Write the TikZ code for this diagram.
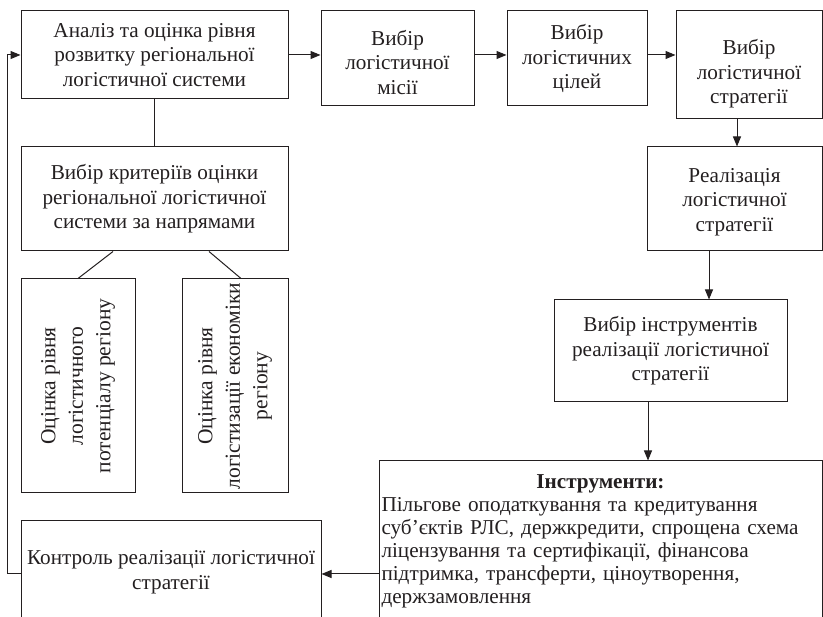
\documentclass[tikz,border=0pt]{standalone}
\usepackage{fontspec}
\setmainfont{Liberation Serif}
\usetikzlibrary{arrows.meta}
\definecolor{ink}{RGB}{35,31,32}

\begin{document}
\begin{tikzpicture}[x=1pt, y=-1pt,
    blok/.style={rectangle, draw=ink, line width=1pt, text=ink, align=center, inner sep=2pt, font=\fontsize{21.2}{24.5}\selectfont},
    vblok/.style={blok, rotate=90, font=\fontsize{21.5}{27.5}\selectfont},
    arrow/.style={draw=ink, line width=1pt, -{Triangle[length=10pt,width=8pt]}},
    line/.style={draw=ink, line width=1pt}
]
    \useasboundingbox (0,0) rectangle (823,617);
    \clip (0,0) rectangle (823,617);

    \node[blok, minimum width=267pt, minimum height=88pt] (ana) at (154.5,55) {Аналіз та оцінка рівня\\розвитку регіональної\\логістичної системи};
    \node[blok, minimum width=153pt, minimum height=95pt] (misia) at (397.5,58.5) {\rule{0pt}{23pt}Вибір\\логістичної\\місії};
    \node[blok, minimum width=140pt, minimum height=95pt] (tsili) at (577,58.5) {Вибір\\логістичних\\цілей};
    \node[blok, minimum width=146pt, minimum height=108pt] (strat) at (749,65) {\rule{0pt}{33pt}Вибір\\логістичної\\стратегії};
    \node[blok, minimum width=175pt, minimum height=104pt] (real) at (734.5,199) {\rule{0pt}{20pt}Реалізація\\логістичної\\стратегії};
    \node[blok, minimum width=233pt, minimum height=102pt] (instr) at (670.5,351) {Вибір інструментів\\реалізації логістичної\\стратегії};
    \node[blok, minimum width=443pt, minimum height=161pt, text width=438pt, align=left, font=\fontsize{21.2}{23}\selectfont] (tools) at (600.5,541.5)
        {\hfill\textbf{Інструменти:}\hfill\null\\Пільгове оподаткування та кредитування\\суб’єктів РЛС, держкредити, спрощена схема\\ліцензування та сертифікації, фінансова\\підтримка, трансферти, ціноутворення,\\держзамовлення};
    \node[blok, minimum width=300pt, minimum height=102pt] (kontrol) at (171,572) {Контроль реалізації логістичної\\стратегії};
    \node[blok, minimum width=267pt, minimum height=104pt] (kryt) at (154.5,199) {Вибір критеріїв оцінки\\регіональної логістичної\\системи за напрямами};
    \node[vblok, minimum width=214pt, minimum height=114pt] (potent) at (78,386) {Оцінка рівня\\логістичного\\потенціалу регіону};
    \node[vblok, minimum width=214pt, minimum height=106pt] (ekon) at (235,386) {Оцінка рівня\\логістизації економіки\\регіону};

    \draw[arrow] (ana.east) -- (ana.east -| misia.west);
    \draw[arrow] (misia.east |- ana.east) -- (tsili.west |- ana.east);
    \draw[arrow] (tsili.east |- ana.east) -- (strat.west |- ana.east);
    \draw[arrow] (strat.south -| 737,0) -- (real.north -| 737,0);
    \draw[arrow] (real.south -| 709,0) -- (instr.north -| 709,0);
    \draw[arrow] (instr.south -| 648,0) -- (tools.north -| 648,0);
    \draw[arrow] (tools.west |- 0,574) -- (kontrol.east |- 0,574);
    \draw[arrow] (kontrol.west |- 0,574) -- (7.5,574) |- (ana.west);

    \draw[line] (ana.south) -- (kryt.north);
    \draw[line] (kryt.south -| 113,0) -- (potent.east);
    \draw[line] (kryt.south -| 209,0) -- (ekon.east -| 241,0);
\end{tikzpicture}
\end{document}
